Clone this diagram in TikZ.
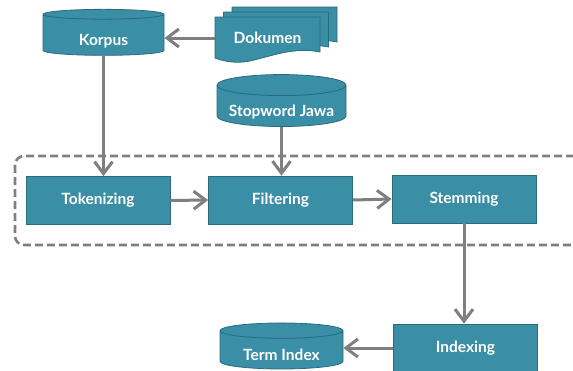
\documentclass[tikz,border=0pt]{standalone}
\usepackage{fontspec}
\setmainfont{Lato}
\usetikzlibrary{shapes.geometric,arrows.meta}
\definecolor{boxfill}{HTML}{3A8EA5}
\definecolor{boxline}{HTML}{2A6B7E}
\definecolor{flowgray}{HTML}{7F7F7F}
\begin{document}
\begin{tikzpicture}[x=1pt,y=-1pt,font=\fontsize{15.5}{17}\selectfont\bfseries,text=white]
    \tikzstyle{stepbox}=[rectangle,fill=boxfill,draw=boxline,line width=0.8pt,minimum width=144pt,minimum height=48pt]
    \tikzstyle{store}=[cylinder,shape border rotate=90,shape aspect=0.2,fill=boxfill,draw=boxline,line width=0.8pt,inner sep=0pt,text height=20pt,text depth=0pt]
    \tikzstyle{docpage}=[fill=boxfill,draw=boxline,line width=0.8pt]
    \tikzstyle{flow}=[draw=flowgray,line width=3pt,-{Straight Barb[length=12pt,width=18pt]}]
    \useasboundingbox (0,0) rectangle (573,370);

    % the dashed group round the three preprocessing steps
    \draw[flowgray,line width=2.6pt,dash pattern=on 8pt off 4pt,rounded corners=9pt] (15,156) rectangle (600,245);

    % the stacked pages of Dokumen
    \foreach \dx/\dy in {17/-10,8.5/-5,0/0}
        \draw[docpage,shift={(215+\dx,17+\dy)}] (0,0) -- (105,0) -- (105,35)
            .. controls (80,30) and (60,38) .. (35,44) .. controls (20,47) and (8,44) .. (0,41) -- cycle;
    \node[minimum width=105pt,minimum height=42pt] (dokumen) at (267.5,38) {Dokumen};

    % data stores
    \node[store,minimum width=121pt,minimum height=46pt] (korpus) at (103.5,35) {Korpus};
    \node[store,minimum width=129pt,minimum height=42pt] (stopword) at (281.5,106) {Stopword Jawa};
    \node[store,minimum width=123pt,minimum height=46pt] (termindex) at (281.5,350) {Term Index};

    % processing steps
    \node[stepbox] (tokenizing) at (98,200.5) {Tokenizing};
    \node[stepbox] (filtering) at (280.5,200) {Filtering};
    \node[stepbox] (stemming) at (464,199) {Stemming};
    \node[stepbox] (indexing) at (465.5,348) {Indexing};

    % connections
    \path[flow] (dokumen.west) -- (dokumen.west -| korpus.east);
    \path[flow] (korpus.south) -- (korpus.south |- tokenizing.north);
    \path[flow] (stopword.south) -- (stopword.south |- filtering.north);
    \path[flow] (tokenizing.east) -- (filtering.west);
    \path[flow] (filtering.east) -- (stemming.west);
    \path[flow] (stemming.south) -- (stemming.south |- indexing.north);
    \path[flow] (indexing.west) -- (indexing.west -| termindex.east);

\end{tikzpicture}
\end{document}
